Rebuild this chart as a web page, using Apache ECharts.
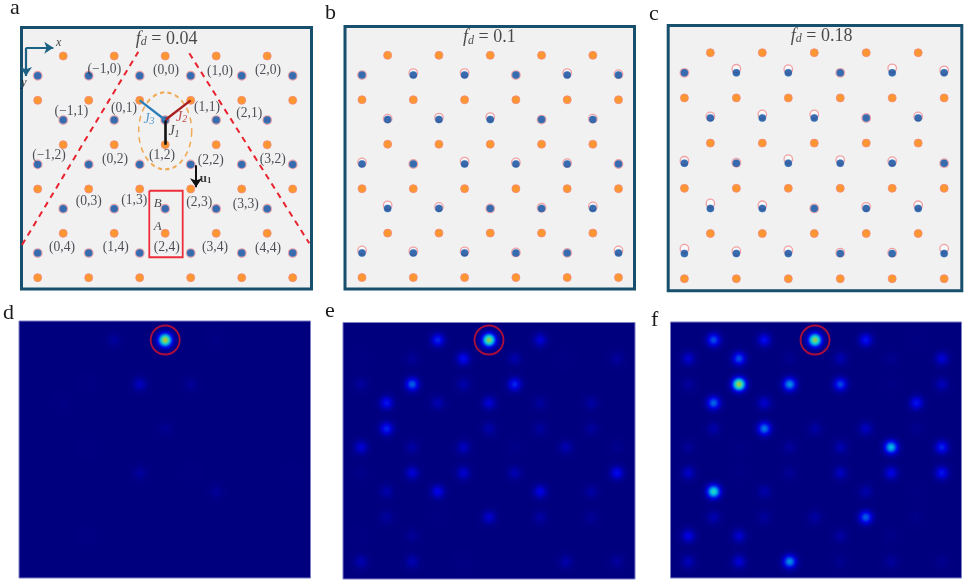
<!DOCTYPE html>
<html><head><meta charset="utf-8">
<style>html,body{margin:0;padding:0;background:#fff}#c{width:965px;height:582px;filter:blur(0.3px)}</style>
<script src="https://cdn.jsdelivr.net/npm/echarts@6/dist/echarts.min.js"></script>
</head><body><div id="c"></div>
<script>
// ---- lattice site coordinates (x in lattice spacings, y in row spacings)
const wideCols = [0, 1, 2, 3, 4, 5];
const shortCols = [0.5, 1.5, 2.5, 3.5, 4.5];
const orangeRows = [[0, shortCols], [1, wideCols], [2, shortCols], [3, wideCols], [4, shortCols], [5, wideCols]];
const blueRows = [[0.445, wideCols], [1.445, shortCols], [2.445, wideCols], [3.445, shortCols], [4.445, wideCols]];
// ---- upward shift of the open (reference) circles relative to the blue sites
const shiftA = [[0,0,0,0,0,0],[0,0,0,0,0],[0,0,0,0,0,0],[0,0,0,0,0],[0,0,0,0,0,0]];
const shiftB = [[0,.045,.045,0,.045,.02],[.02,.045,.055,0,.02],[.035,0,.055,.035,.02,0],[.07,.035,0,.015,.045],[.055,.035,.035,.01,0,.055]];
const shiftC = [[0,.09,.08,0,.1,.055],[.035,.08,.08,0,.035],[.055,.01,.09,.07,.045,0],[.11,.07,0,.035,.07],[.11,.055,.07,.02,.02,.11]];
// ---- intensity rows of the field maps
const heatRowY = [0, .42, 1, 1.42, 2, 2.42, 3, 3.42, 4, 4.42, 5];
const heatRowX = [shortCols, wideCols, wideCols, shortCols, shortCols, wideCols, wideCols, shortCols, shortCols, wideCols, wideCols];
const heatD = [
 [0,.05,.6,.01,0],[0,0,0,0,0,0],[0,.01,.1,.04,0,0],[.012,0,0,0,0],[0,0,.035,0,0],
 [0,.005,0,0,0,0],[0,0,.05,.006,0,.005],[0,0,0,.04,0],[0,0,0,0,0],[0,.012,0,0,0,0],[0,0,0,0,0,0]];
const heatE = [
 [0,.2,.56,.13,0],[.01,.04,.17,.07,.01,.05],[.05,.27,.07,.2,0,0],[.18,.08,.13,.05,.06],[.2,0,.07,.05,.05],
 [.13,.06,.1,.02,.08,.03],[.02,.13,.12,.08,0,.17],[.07,.16,0,.15,.06],[.05,.01,.12,.06,.04],[.01,.04,0,0,0,0],[.08,.08,.01,0,.07,.05]];
const heatF = [
 [.25,.17,.56,.18,.01],[.12,.25,.03,.08,.03,.13],[.05,.58,.33,.24,.01,.09],[.28,.12,0,0,.18],[.07,.3,.06,.1,.03],
 [.04,.01,.05,.08,.38,.2],[.11,.01,.04,.1,.15,.18],[.45,.07,0,.07,.01],[.08,.05,.06,.27,.02],[.15,.12,0,.06,.02,0],[.09,.13,.33,.03,.05,.03]];
const peakSite = [2.5, 0];
// ---- panel a annotations
const siteLabels = [["(−1,0)",1.306,.30],["(0,0)",2.516,.316],["(1,0)",3.575,.338],["(2,0)",4.516,.331],
 ["(−1,1)",.659,1.247],["(0,1)",1.692,1.173],["(1,1)",3.32,1.157],["(2,1)",4.149,1.293],
 ["(−1,2)",.222,2.233],["(0,2)",1.516,2.33],["(1,2)",2.437,2.249],["(2,2)",3.392,2.353],["(3,2)",4.608,2.33],
 ["(0,3)",1,3.278],["(1,3)",1.894,3.264],["(2,3)",3.169,3.293],["(3,3)",4.078,3.339],
 ["(0,4)",.476,4.309],["(1,4)",1.529,4.315],["(2,4)",2.529,4.315],["(3,4)",3.476,4.315],["(4,4)",4.516,4.338]];
const coneLines = [[[-.308,4.263],[1.973,-.097]], [[2.973,-.061],[5.325,4.225]]];
const bondCenter = [2.5, 1.444];
const bondJ1 = [2.5, 2], bondJ2 = [3, 1], bondJ3 = [2, 1];
const cellBox = [[2.188,3.04],[2.843,3.04],[2.843,4.54],[2.188,4.54],[2.188,3.04]];
const ellipseCenter = [2.5, 1.69];
const axisX = [[-.229,-.187],[.306,-.187]], axisY = [[-.229,-.187],[-.229,.451]];
const arrowU1 = [[3.104,2.466],[3.104,2.962]];
const fdLabels = ["0.04", "0.1", "0.18"];
const panelLetters = [["a",10,19],["b",325,24],["c",649,25],["d",3,324],["e",325,322],["f",651,331]];

// ---- layout: frame rectangle in px, px of lattice origin, px per lattice unit
const L = [
 {f:[21.5,27.5,311.5,289],   o:[37.7,56],   u:[51,44.33]},
 {f:[345,26.5,634.5,289],    o:[362,55.3],  u:[51.3,44.45]},
 {f:[668.2,25.5,961.8,290.8],o:[684.4,52.7],u:[51.95,45.2]},
 {f:[19,321,310.5,578],      o:[37.7,340],  u:[51,44.33]},
 {f:[343,322.5,635,579],     o:[361,340],   u:[51.2,44.33]},
 {f:[670.5,322,961.5,578],   o:[688.3,340], u:[50.7,44.33]}
];
const grid=[],xAxis=[],yAxis=[],series=[];
L.forEach((p,i)=>{
  const dark=i<3;
  grid.push({left:p.f[0],top:p.f[1],width:p.f[2]-p.f[0],height:p.f[3]-p.f[1],show:true,
    backgroundColor:dark?'#f1f1f1':'#00007f',borderColor:dark?'#174f6c':'#7d7dc6',borderWidth:dark?3:1});
  xAxis.push({type:'value',gridIndex:i,min:(p.f[0]-p.o[0])/p.u[0],max:(p.f[2]-p.o[0])/p.u[0],show:false});
  yAxis.push({type:'value',gridIndex:i,inverse:true,min:(p.f[1]-p.o[1])/p.u[1],max:(p.f[3]-p.o[1])/p.u[1],show:false});
});
const expand=rows=>rows.flatMap(([y,xs])=>xs.map(x=>[x,y]));
function textSeries(i,items,z){
  series.push({type:'scatter',xAxisIndex:i,yAxisIndex:i,symbolSize:1,itemStyle:{color:'rgba(0,0,0,0)'},z:z||8,silent:true,
    data:items.map(t=>({value:[t.x,t.y],label:t.label})),
    label:{show:true,position:'inside'}});
}
function lattice(i,shift){
  const ringPts=[];
  blueRows.forEach(([y,xs],r)=>xs.forEach((x,c)=>ringPts.push([x,y-shift[r][c]])));
  series.push({type:'scatter',xAxisIndex:i,yAxisIndex:i,z:2,symbolSize:8.5,silent:true,data:ringPts,
    itemStyle:{color:'#fbfbfb',borderColor:'#f08c90',borderWidth:1.3}});
  series.push({type:'scatter',xAxisIndex:i,yAxisIndex:i,z:3,symbolSize:7.5,silent:true,data:expand(blueRows),
    itemStyle:{color:'#08479a',borderColor:'rgba(90,160,225,0.5)',borderWidth:0.5}});
  series.push({type:'scatter',xAxisIndex:i,yAxisIndex:i,z:3,symbolSize:8,silent:true,data:expand(orangeRows),
    itemStyle:{color:'#ff8000',borderColor:'#f58a7c',borderWidth:1}});
  const lab=L[i];
  const fdPos=[[166.7,39],[489.3,37.7],[821.7,36]][i];
  textSeries(i,[{x:(fdPos[0]-lab.o[0])/lab.u[0],y:(fdPos[1]-lab.o[1])/lab.u[1],
    label:{formatter:'{i|f}{s|d}{n| = '+fdLabels[i]+'}',
      rich:{i:{fontFamily:'Liberation Serif',fontStyle:'italic',fontSize:18,color:'#1e1e1e'},
            s:{fontFamily:'Liberation Serif',fontStyle:'italic',fontSize:12,color:'#1e1e1e',verticalAlign:'bottom',padding:[6,0,0,0]},
            n:{fontFamily:'Liberation Serif',fontSize:18,color:'#1e1e1e'}}}}]);
}
lattice(0,shiftA); lattice(1,shiftB); lattice(2,shiftC);

// panel a overlays
function lines(coords,color,width,type,arrow,z){
  series.push({type:'lines',coordinateSystem:'cartesian2d',xAxisIndex:0,yAxisIndex:0,z:z||5,silent:true,polyline:coords.length>2,
    symbol:arrow?['none','arrow']:'none',symbolSize:arrow||0,
    lineStyle:{color,width,type:type||'solid',opacity:1,curveness:0},data:[{coords}]});
}
coneLines.forEach(c=>lines(c,'#e8232e',2,[6,5]));
lines([bondCenter,bondJ1],'#111',2.6);
lines([bondCenter,bondJ2],'#a81e1e',2.4);
lines([bondCenter,bondJ3],'#2c7fb8',2.4);
lines(cellBox,'#ee2d3a',1.8);
lines(axisX,'#1c6285',2.2,'solid',9);
lines(axisY,'#1c6285',2.2,'solid',9);
lines(arrowU1,'#111',2,'solid',9);
series.push({type:'scatter',xAxisIndex:0,yAxisIndex:0,z:4,silent:true,symbol:'circle',symbolSize:[53,77],data:[ellipseCenter],
  itemStyle:{color:'rgba(0,0,0,0)',borderColor:'#f09a30',borderWidth:1.8,borderType:[5,4]}});
const serifLab={fontFamily:'Liberation Serif',fontSize:13.6,color:'#22262e',fontWeight:'normal'};
textSeries(0,siteLabels.map(([t,x,y])=>({x,y,label:Object.assign({},serifLab,{formatter:t})})));
const toL=(px,py)=>({x:(px-37.7)/51,y:(py-56)/44.33});
const italic=(c,s)=>({fontFamily:'Liberation Serif',fontStyle:'italic',fontSize:s,color:c});
function sym(px,py,text,c,size,sub){
  const label=sub?{formatter:'{a|'+text+'}{b|'+sub+'}',rich:{a:italic(c,size),b:Object.assign(italic(c,size-4),{verticalAlign:'bottom',padding:[5,0,0,0]})}}
                 :Object.assign({formatter:text},italic(c,size));
  return Object.assign(toL(px,py),{label});
}
textSeries(0,[sym(149,119.3,'J','#2c86c8',14,'3'),sym(181.7,117.3,'J','#b02424',14,'2'),sym(174,131.7,'J','#222',14,'1'),
  sym(157.7,203.3,'B','#222',13),sym(157.7,226.7,'A','#222',13),sym(58.7,42.7,'x','#111',12),sym(24,82.7,'y','#111',12),
  Object.assign(toL(205.7,178.3),{label:{formatter:'{a|u}{b|1}',rich:{a:{fontFamily:'Liberation Serif',fontWeight:'bold',fontSize:13,color:'#111'},b:{fontFamily:'Liberation Serif',fontWeight:'bold',fontSize:9,color:'#111',verticalAlign:'bottom',padding:[4,0,0,0]}}}})]);

// field maps: blob brightness follows the spot's read intensity
function jet(v){
  const c=t=>Math.round(255*Math.max(0,Math.min(1,1.5-Math.abs(4*v-t))));
  return 'rgb('+c(3)+','+c(2)+','+c(1)+')';
}
function spot(v){
  const w=0.6*Math.pow(v/0.6,1.15), stops=[];
  for(let k=0;k<=12;k++){const t=k/12;stops.push({offset:t,color:jet(w*Math.exp(-t*t/(2*0.085)))});}
  stops[12].color='rgba(0,0,127,0)';
  return {type:'radial',x:.5,y:.5,r:.5,colorStops:stops};
}
[heatD,heatE,heatF].forEach((h,n)=>{
  const i=n+3,data=[];
  h.forEach((row,r)=>row.forEach((v,c)=>{ if(v>0) data.push({value:[heatRowX[r][c],heatRowY[r],v],itemStyle:{color:spot(v)}}); }));
  series.push({type:'scatter',xAxisIndex:i,yAxisIndex:i,z:2,silent:true,symbolSize:30,data});
  series.push({type:'scatter',xAxisIndex:i,yAxisIndex:i,z:3,silent:true,symbolSize:29,data:[peakSite],
    itemStyle:{color:'rgba(0,0,0,0)',borderColor:'#d6112a',borderWidth:1.8}});
});
const graphic=panelLetters.map(([t,x,y])=>({type:'text',x,y,silent:true,
  style:{text:t,fill:'#1a1a1a',font:'22px "Liberation Serif"',verticalAlign:'bottom'}}));
const chart=echarts.init(document.getElementById('c'),null,{renderer:'canvas'});
chart.setOption({animation:false,backgroundColor:'#fff',tooltip:{show:false},grid,xAxis,yAxis,series,graphic});
</script></body></html>
